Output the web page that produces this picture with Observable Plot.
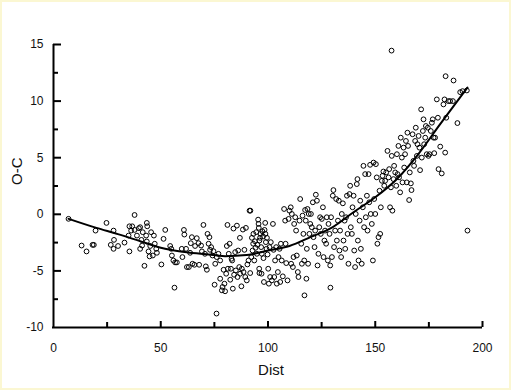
<!DOCTYPE html>
<html>
<head>
<meta charset="utf-8">
<script src="https://cdn.jsdelivr.net/npm/d3@7"></script>
<script src="https://cdn.jsdelivr.net/npm/@observablehq/plot@0.6"></script>
<style>
  html, body { margin: 0; padding: 0; background: #ffffff; }
  #chart svg { display: block; }
</style>
</head>
<body>
<div id="chart"></div>
<script>
const dist = [
7.0,13.1,15.4,18.2,18.8,19.6,24.7,26.7,28.0,28.0,28.2,30.1,33.1,35.4,35.4,35.0,36.2,36.7,37.8,37.8,
38.9,39.8,40.4,40.4,41.0,41.6,41.3,42.4,43.2,43.5,43.7,43.5,44.3,44.8,45.1,45.5,46.3,46.8,47.2,47.9,
48.2,50.3,51.3,52.1,54.4,54.9,55.2,55.9,56.4,56.7,57.5,59.8,60.1,60.8,61.0,61.8,62.2,63.1,63.7,64.0,
64.5,64.8,65.7,66.0,66.8,67.6,67.9,68.8,69.2,69.9,70.6,71.0,71.5,71.8,72.3,72.7,73.0,73.5,74.1,74.6,
75.1,75.4,76.0,76.1,76.9,77.7,77.7,78.5,78.8,79.3,79.7,80.0,80.5,80.8,81.1,81.3,81.7,82.1,82.4,82.7,
83.0,83.3,83.6,83.9,84.2,84.7,85.0,85.5,85.8,86.1,86.6,86.9,87.0,87.6,87.8,88.3,88.6,89.0,89.4,89.7,
90.1,90.4,90.9,91.4,91.8,91.7,92.2,92.5,92.8,93.1,93.2,93.6,93.9,94.2,94.5,94.8,95.1,95.4,95.6,95.7,
96.0,95.9,96.0,96.3,96.5,96.8,97.0,97.1,97.4,97.7,97.9,98.1,98.4,98.7,98.8,99.0,99.3,99.5,99.8,100.1,
100.4,100.7,101.0,101.3,101.8,102.3,102.6,102.9,103.3,103.8,104.1,104.6,104.9,105.4,105.7,106.0,106.4,106.9,107.5,108.0,
108.2,108.5,109.1,109.6,110.0,110.6,110.8,111.1,111.6,111.9,112.2,112.7,113.1,113.4,113.9,114.2,114.7,115.0,115.5,115.8,
116.1,116.5,116.9,117.0,117.3,117.6,117.9,118.1,118.4,118.7,119.0,119.3,119.7,120.0,120.4,120.9,121.2,121.7,122.0,122.3,
122.8,123.1,123.5,123.9,124.3,124.6,125.1,125.6,125.9,126.3,126.6,127.1,127.4,127.9,128.2,128.7,129.0,129.1,129.4,129.8,
130.2,130.5,130.8,131.3,131.8,132.1,132.6,133.0,133.3,133.6,134.1,134.4,134.9,135.2,135.7,136.0,136.4,136.8,137.1,137.5,
138.0,138.3,138.6,139.1,139.4,139.9,140.2,140.6,140.9,141.4,141.7,141.9,142.2,142.7,143.0,143.3,143.7,144.2,144.5,144.8,
145.3,145.6,146.1,146.4,146.9,147.2,147.6,147.9,148.4,148.9,149.2,149.5,150.0,150.3,150.7,151.0,151.5,152.0,152.3,152.6,
153.1,153.4,153.8,154.2,154.6,155.1,155.7,156.2,156.5,156.9,157.3,157.6,157.7,158.0,158.5,158.8,159.3,159.8,160.1,160.4,
160.8,161.1,161.6,161.9,162.4,162.7,163.2,163.5,163.9,164.3,164.7,165.0,165.3,165.8,166.1,166.6,166.9,167.4,167.8,168.1,
168.6,168.9,169.4,169.7,170.2,170.6,170.9,171.4,171.7,172.2,172.5,172.8,173.3,173.6,174.0,174.5,174.8,175.3,175.9,176.4,
176.8,177.2,177.5,177.9,178.7,179.2,179.5,180.3,181.0,181.8,182.3,182.6,182.8,183.1,184.1,184.9,186.2,186.5,188.3,189.6,
190.7,192.7,193.0
];
const oc = [
-0.4,-2.76,-3.28,-2.7,-2.7,-1.44,-0.76,-2.7,-1.44,-3.05,-2.26,-2.8,-2.5,-1.06,-3.28,-1.88,-1.44,-1.06,-0.06,-1.38,
-1.88,-1.23,-1.14,-3.05,-2.26,-1.58,-2.76,-4.55,-1.88,-0.76,-1.06,-2.4,-3.28,-3.72,-2.8,-1.58,-3.64,-1.88,-2.6,-3.05,
-3.4,-4.43,-2.17,-1.38,-2.8,-3.05,-3.64,-4.08,-6.48,-4.25,-4.25,-3.05,-3.78,-1.38,-1.79,-3.05,-4.66,-4.66,-3.4,-2.55,
-2.02,-4.37,-4.46,-2.8,-2.11,-2.55,-4.46,-2.76,-3.28,-0.94,-3.49,-4.6,-4.9,-1.73,-2.6,-2.02,-3.14,-2.9,-3.64,-3.26,
-6.22,-4.37,-8.77,-3.78,-3.49,-4.08,-5.69,-6.72,-6.42,-4.9,-6.13,-6.8,-5.25,-2.8,-0.94,-4.81,-3.49,-2.6,-5.78,-4.81,
-3.93,-4.08,-6.57,-1.26,-5.34,-3.34,-4.96,-1.0,-5.54,-3.2,-4.66,-2.08,-5.25,-6.36,-4.81,-1.35,-5.1,-3.14,-5.54,-1.2,
-5.84,-4.43,-4.08,0.32,0.32,-5.19,-3.78,-2.08,-3.2,-2.6,-1.73,-4.08,-2.38,-2.96,-1.58,-3.49,-2.7,-0.47,-0.85,-1.2,
-2.32,-4.81,-5.19,-2.08,-1.73,-2.9,-5.25,-3.49,-1.5,-1.96,-3.87,-5.98,-1.38,-0.76,-1.73,-2.46,-3.05,-2.08,-3.55,-4.81,
-6.13,-2.9,-5.54,-2.46,-5.84,-0.85,-3.14,-5.54,-4.08,-2.9,-6.13,-5.1,-3.78,-3.05,-5.98,-2.6,-4.08,-5.48,0.47,-0.56,
-2.6,-4.31,-5.84,-0.41,0.32,0.62,-4.37,0.03,-4.66,-3.78,-0.85,-0.26,-1.44,-3.64,-5.1,-5.54,-0.56,1.35,-2.6,-4.37,
-0.12,-1.73,-4.08,-7.16,0.38,-0.56,-5.69,-3.05,0.47,-4.37,0.03,-1.73,-0.85,0.03,-1.14,1.06,-2.02,-2.9,-1.44,1.73,
1.2,-4.52,-3.49,-1.14,-0.26,-1.73,-0.41,0.62,-3.78,-2.32,-1.44,-2.6,-0.26,-4.08,-0.85,-1.73,-4.52,-6.48,-0.26,-3.78,
1.64,2.14,-2.9,-1.44,1.35,-2.32,-0.56,1.2,-3.2,-1.44,-3.78,0.03,0.97,-2.32,-0.56,-3.05,-0.26,1.64,-1.73,-4.37,
1.79,2.52,-1.14,-1.73,0.62,1.64,-3.2,-4.66,0.03,2.67,3.11,-2.32,-4.08,-0.56,1.2,-3.05,-4.37,0.62,4.28,-1.14,
3.55,-0.26,1.64,-1.44,3.55,1.06,4.37,0.03,-0.85,-4.08,4.57,1.35,0.03,4.43,3.26,-2.6,-2.02,2.08,-1.73,0.62,
2.96,3.4,3.78,2.52,2.96,3.7,5.6,3.26,3.99,0.62,2.38,14.46,5.16,0.32,3.11,4.28,3.7,2.52,5.31,3.55,
6.04,3.26,1.94,6.77,5.01,2.82,5.89,4.13,5.31,6.48,2.82,7.21,6.04,1.26,3.7,2.73,2.14,7.07,4.72,4.28,
6.48,7.65,5.16,6.19,6.92,5.89,3.9,9.27,5.01,7.36,8.39,6.19,6.77,7.8,5.31,7.65,5.16,5.31,7.36,8.09,
8.39,6.77,5.4,6.77,10.15,8.53,3.99,5.98,3.61,9.71,10.15,5.45,12.2,8.53,10.0,10.0,10.0,11.82,8.06,10.79,
10.88,10.94,-1.44
];

// fitted trend curve
const fitDist = [7, 20, 30, 40, 50, 60, 70, 80, 90, 100, 110, 120, 130, 140, 150, 160, 170, 180, 193];
const fitOC   = [-0.4, -1.2, -1.75, -2.35, -2.95, -3.3, -3.5, -3.7, -3.6, -3.2, -2.8, -2.0, -1.15, 0.2, 1.5, 3.1, 5.3, 7.9, 11.2];

const xTicksMajor = [50, 100, 150, 200];
const xTicksMinor = [25, 75, 125, 175];
const xTickLabels = [0, 50, 100, 150, 200];
const yTicksMajor = [-5, 0, 5, 10, 15];
const yTicksMinor = [-7.5, -2.5, 2.5, 7.5, 12.5];
const yTickLabels = [-10, -5, 0, 5, 10, 15];

const points = dist.map((d, i) => ({dist: d, oc: oc[i]}));
const fit = fitDist.map((d, i) => ({dist: d, oc: fitOC[i]}));

const chart = Plot.plot({
  width: 511,
  height: 390,
  marginLeft: 53,
  marginRight: 29,
  marginTop: 44,
  marginBottom: 63,
  x: {domain: [0, 200], axis: null},
  y: {domain: [-10, 15], axis: null},
  style: {
    fontFamily: "'Liberation Sans', Arial, sans-serif",
    background: "#ffffff",
    color: "#111",
    outline: "2px solid #fbf7d2",
    outlineOffset: "-2px"
  },
  marks: [
    Plot.dot(points, {x: "dist", y: "oc", r: 2.4, stroke: "#000", strokeWidth: 1, fill: "none"}),
    Plot.line(fit, {x: "dist", y: "oc", curve: "monotone-x", stroke: "#000", strokeWidth: 2}),
    Plot.ruleX([0], {stroke: "#000", strokeWidth: 2}),
    Plot.ruleY([-10], {stroke: "#000", strokeWidth: 2, x1: 0, x2: 200, insetLeft: -1}),
    Plot.ruleX(xTicksMajor, {x: d => d, y1: -10, y2: -10, insetTop: -6, insetBottom: 0, stroke: "#000", strokeWidth: 2}),
    Plot.ruleX(xTicksMinor, {x: d => d, y1: -10, y2: -10, insetTop: -5, insetBottom: 0, stroke: "#000", strokeWidth: 2}),
    Plot.ruleY(yTicksMajor, {y: d => d, x1: 0, x2: 0, insetLeft: 0, insetRight: -8, stroke: "#000", strokeWidth: 2}),
    Plot.ruleY(yTicksMinor, {y: d => d, x1: 0, x2: 0, insetLeft: 0, insetRight: -5, stroke: "#000", strokeWidth: 2}),
    Plot.axisX({ticks: xTickLabels, tickSize: 0, tickPadding: 16, fontSize: 12, label: null, tickFormat: d => String(d)}),
    Plot.axisY({ticks: yTickLabels, tickSize: 0, tickPadding: 10, fontSize: 12, label: null, tickFormat: d => String(d)}),
    Plot.text(["Dist"], {frameAnchor: "bottom", dy: 43, dx: 3, lineAnchor: "middle", fontSize: 15, fill: "#111"}),
    Plot.text(["O-C"], {frameAnchor: "left", dx: -36, dy: -1, rotate: -90, lineAnchor: "middle", fontSize: 15, fill: "#111"})
  ]
});
document.getElementById("chart").appendChild(chart);
</script>
</body>
</html>
